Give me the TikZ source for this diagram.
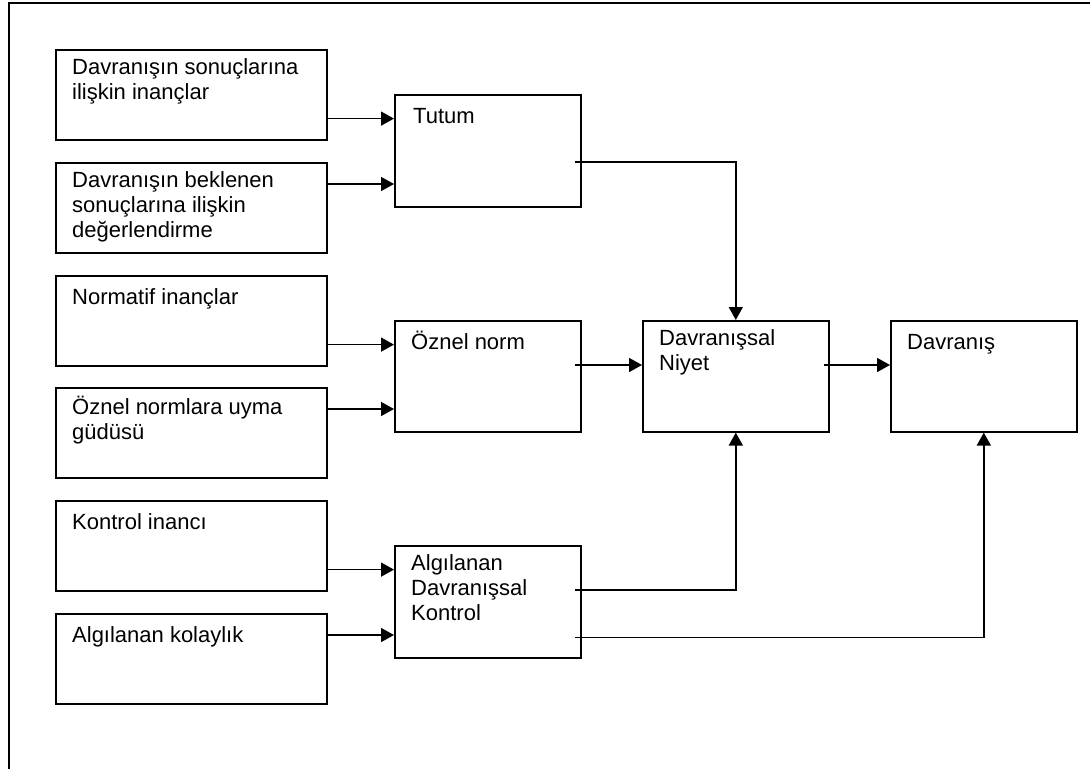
\documentclass[tikz,border=0pt]{standalone}
\usepackage{fontspec}
\setmainfont{Liberation Sans}
\usetikzlibrary{arrows.meta}
\tikzset{
  girdi/.style={draw=black, line width=1.6pt, anchor=north west, inner sep=0pt, minimum width=271pt, minimum height=90pt},
  ara/.style={draw=black, line width=1.6pt, anchor=north west, inner sep=0pt, minimum width=186pt, minimum height=112pt},
  sonuc/.style={draw=black, line width=1.6pt, anchor=north west, inner sep=0pt, minimum width=186pt, minimum height=111pt},
  yazi/.style={anchor=north west, inner sep=0pt, align=left, font=\fontsize{22pt}{25pt}\selectfont, execute at begin node={\rule{0pt}{20pt}}},
  ok/.style={-{Triangle[length=13pt,width=14pt]}, line width=1.5pt, draw=black}
}
\begin{document}
\begin{tikzpicture}[x=1pt, y=-1pt]
\useasboundingbox (0,0) rectangle (1090,769);
\draw[line width=1.8pt] (9,769) -- (9,3) -- (1090,3);
\node[girdi] (inanc) at (55,49) {};
\node[girdi] (deger) at (55,162) {};
\node[girdi] (normatif) at (55,275) {};
\node[girdi] (uyma) at (55,387) {};
\node[girdi] (kontrol) at (55,500) {};
\node[girdi] (kolay) at (55,613) {};
\node[ara] (tutum) at (394,94) {};
\node[sonuc] (norm) at (394,320) {};
\node[ara] (algi) at (394,545) {};
\node[sonuc] (niyet) at (642,320) {};
\node[sonuc] (davranis) at (890,320) {};
\node[yazi] (inanc-t) at ([shift={(17pt,-9pt)}]inanc.north west) {Davranışın sonuçlarına\\ilişkin inançlar};
\begin{scope}
\clip (deger.north west) rectangle (deger.south east);
\node[yazi] (deger-t) at ([shift={(17pt,-9pt)}]deger.north west) {Davranışın beklenen\\sonuçlarına ilişkin\\değerlendirme};
\end{scope}
\node[yazi] (normatif-t) at ([shift={(17pt,-9pt)}]normatif.north west) {Normatif inançlar};
\node[yazi] (uyma-t) at ([shift={(17pt,-9pt)}]uyma.north west) {Öznel normlara uyma\\güdüsü};
\node[yazi] (kontrol-t) at ([shift={(17pt,-9pt)}]kontrol.north west) {Kontrol inancı};
\node[yazi] (kolay-t) at ([shift={(17pt,-9pt)}]kolay.north west) {Algılanan kolaylık};
\node[yazi] (tutum-t) at ([shift={(19pt,-9pt)}]tutum.north west) {Tutum};
\node[yazi] (norm-t) at ([shift={(17pt,-9pt)}]norm.north west) {Öznel norm};
\node[yazi] (algi-t) at ([shift={(17pt,-9pt)}]algi.north west) {Algılanan\\Davranışsal\\Kontrol};
\node[yazi] (niyet-t) at ([shift={(17pt,-9pt)}]niyet.north west) {Davranışsal\\Niyet};
\node[yazi] (davranis-t) at ([shift={(17pt,-9pt)}]davranis.north west) {Davranış};
\draw[ok] ([yshift=22pt]inanc.south east) -- ([yshift=22pt]inanc.south east -| tutum.west);
\draw[ok] ([yshift=-22pt]deger.north east) -- ([yshift=-22pt]deger.north east -| tutum.west);
\draw[ok] ([yshift=22pt]normatif.south east) -- ([yshift=22pt]normatif.south east -| norm.west);
\draw[ok] ([yshift=-22pt]uyma.north east) -- ([yshift=-22pt]uyma.north east -| norm.west);
\draw[ok] ([yshift=22pt]kontrol.south east) -- ([yshift=22pt]kontrol.south east -| algi.west);
\draw[ok] ([yshift=-22pt]kolay.north east) -- ([yshift=-22pt]kolay.north east -| algi.west);
\draw[ok] ([shift={(-7pt,-68pt)}]tutum.north east) -| (niyet.north);
\draw[ok] ([shift={(-7pt,-45pt)}]norm.north east) -- ([yshift=-45pt]niyet.north west);
\draw[ok] ([shift={(-6pt,-45pt)}]niyet.north east) -- ([yshift=-45pt]davranis.north west);
\draw[ok] ([shift={(-7pt,-45pt)}]algi.north east) -| (niyet.south);
\draw[ok] ([shift={(-7pt,21pt)}]algi.south east) -| (davranis.south);
\end{tikzpicture}
\end{document}
